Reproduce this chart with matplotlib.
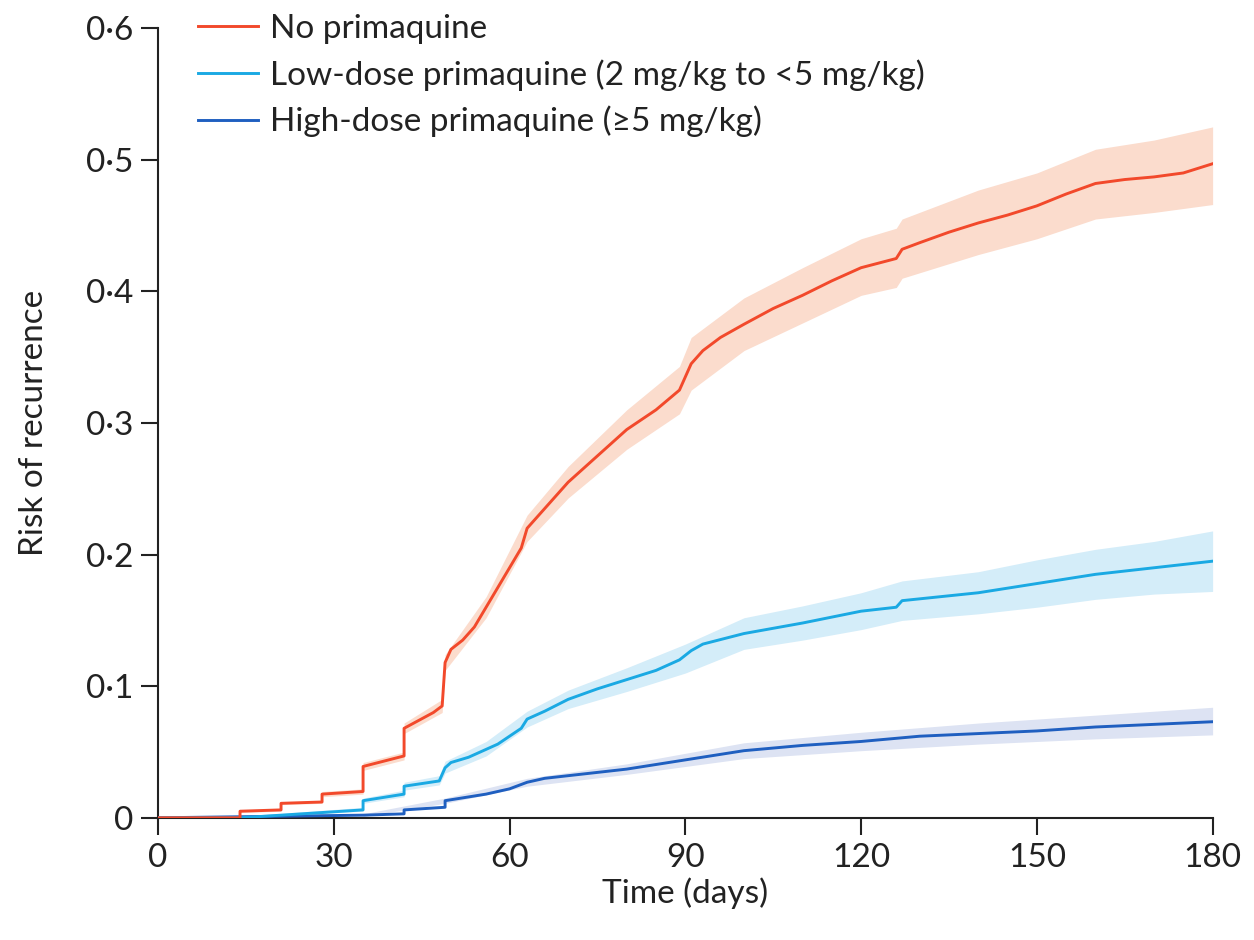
import matplotlib
matplotlib.use("Agg")
import matplotlib.pyplot as plt

# --- data ---
red_t = [0, 14, 14, 21, 21, 28, 28, 35, 35, 42, 42, 47, 48.5, 49, 50, 52, 54, 56, 58, 60,
         62, 63, 66, 70, 75, 80, 85, 89, 91, 93, 96, 100, 105, 110, 115, 120, 126, 127, 130, 135,
         140, 145, 150, 155, 160, 165, 170, 175, 180]
red_r = [0, 0, 0.005, 0.006, 0.011, 0.012, 0.018, 0.020, 0.039, 0.047, 0.068, 0.080, 0.085, 0.118, 0.128, 0.135, 0.145, 0.160, 0.175, 0.190,
         0.205, 0.220, 0.235, 0.255, 0.275, 0.295, 0.310, 0.325, 0.345, 0.355, 0.365, 0.375, 0.387, 0.397, 0.408, 0.418, 0.425, 0.432, 0.437, 0.445,
         0.452, 0.458, 0.465, 0.474, 0.482, 0.485, 0.487, 0.490, 0.497]
red_band_t = [14, 21, 21, 28, 28, 35, 35, 42, 42, 48.5, 49, 56, 63, 70, 80, 89, 91, 100, 110, 120, 126, 127, 140, 150, 160, 170, 180]
red_lo = [0.004, 0.005, 0.010, 0.011, 0.016, 0.018, 0.036, 0.044, 0.064, 0.080, 0.112, 0.152, 0.210, 0.243, 0.280, 0.307, 0.325, 0.355, 0.376, 0.397, 0.403, 0.410, 0.428, 0.440, 0.455, 0.460, 0.466]
red_hi = [0.006, 0.007, 0.012, 0.013, 0.020, 0.022, 0.042, 0.050, 0.072, 0.090, 0.124, 0.168, 0.230, 0.267, 0.310, 0.343, 0.365, 0.395, 0.418, 0.440, 0.448, 0.455, 0.477, 0.490, 0.508, 0.515, 0.525]

cyan_t = [0, 14, 21, 28, 35, 35, 42, 42, 48, 49, 50, 53, 56, 58, 60, 62, 63, 66, 70, 75,
          80, 85, 89, 91, 93, 100, 110, 120, 126, 127, 140, 150, 160, 170, 180]
cyan_r = [0, 0, 0.002, 0.004, 0.006, 0.013, 0.018, 0.024, 0.028, 0.038, 0.042, 0.046, 0.052, 0.056, 0.062, 0.068, 0.075, 0.081, 0.090, 0.098,
          0.105, 0.112, 0.120, 0.127, 0.132, 0.140, 0.148, 0.157, 0.160, 0.165, 0.171, 0.178, 0.185, 0.190, 0.195]
cyan_band_t = [14, 35, 35, 42, 42, 48, 49, 56, 63, 70, 80, 90, 100, 110, 120, 127, 140, 150, 160, 170, 180]
cyan_lo = [0, 0.005, 0.011, 0.016, 0.021, 0.025, 0.034, 0.047, 0.069, 0.083, 0.096, 0.110, 0.128, 0.135, 0.143, 0.150, 0.155, 0.160, 0.166, 0.170, 0.172]
cyan_hi = [0.001, 0.008, 0.015, 0.021, 0.027, 0.032, 0.043, 0.058, 0.081, 0.097, 0.114, 0.132, 0.152, 0.161, 0.171, 0.180, 0.187, 0.196, 0.204, 0.210, 0.218]

blue_t = [0, 35, 42, 42, 49, 49, 56, 60, 63, 66, 70, 80, 90, 100, 110, 120, 130, 140, 150, 160, 170, 180]
blue_r = [0, 0.002, 0.003, 0.006, 0.008, 0.013, 0.018, 0.022, 0.027, 0.030, 0.032, 0.037, 0.044, 0.051, 0.055, 0.058, 0.062, 0.064, 0.066, 0.069, 0.071, 0.073]
blue_band_t = [35, 49, 63, 80, 90, 100, 120, 140, 160, 180]
blue_lo = [0.001, 0.011, 0.024, 0.033, 0.039, 0.045, 0.051, 0.056, 0.060, 0.063]
blue_hi = [0.003, 0.015, 0.030, 0.041, 0.049, 0.057, 0.065, 0.072, 0.078, 0.084]

labels = ["No primaquine", "Low-dose primaquine (2 mg/kg to <5 mg/kg)", "High-dose primaquine (\u22655 mg/kg)"]
x_ticks = [0, 30, 60, 90, 120, 150, 180]
y_ticks = [0, 0.1, 0.2, 0.3, 0.4, 0.5, 0.6]
y_ticklabels = ["0", "0\u00b71", "0\u00b72", "0\u00b73", "0\u00b74", "0\u00b75", "0\u00b76"]

plt.rcParams['font.family'] = ['Lato', 'DejaVu Sans']

fig = plt.figure(figsize=(12.54, 9.4), dpi=100)
ax = fig.add_axes([0.126, 0.130, 0.841, 0.840])

ax.fill_between(red_band_t, red_lo, red_hi, color='#fbdccd', lw=0)
ax.fill_between(cyan_band_t, cyan_lo, cyan_hi, color='#d4edf9', lw=0)
ax.fill_between(blue_band_t, blue_lo, blue_hi, color='#dde3f3', lw=0)

ax.plot(blue_t, blue_r, color='#1f5fc0', lw=2.1, label=labels[2], zorder=3)
ax.plot(cyan_t, cyan_r, color='#1aa9e3', lw=2.1, label=labels[1], zorder=3)
ax.plot(red_t, red_r, color='#f2492b', lw=2.1, label=labels[0], zorder=4)

ax.set_xlim(0, 180)
ax.set_ylim(0, 0.6)
ax.set_xticks(x_ticks)
ax.set_yticks(y_ticks)
ax.set_yticklabels(y_ticklabels)
ax.spines['top'].set_visible(False)
ax.spines['right'].set_visible(False)
for s in ['left', 'bottom']:
    ax.spines[s].set_linewidth(1.5)
    ax.spines[s].set_color('#222222')
ax.tick_params(length=12, width=1.5, colors='#222222', labelsize=24, pad=6)

ax.set_xlabel('Time (days)', fontsize=24, color='#222222', labelpad=3)
ax.set_ylabel('Risk of recurrence', fontsize=24, color='#222222', labelpad=26)

h, l = ax.get_legend_handles_labels()
ax.legend(h[::-1], l[::-1], loc='upper left', bbox_to_anchor=(0.038, 1.018), frameon=False,
          borderpad=0, borderaxespad=0, fontsize=24, handlelength=1.8, handletextpad=0.35,
          labelspacing=0.45, labelcolor='#222222')

fig.savefig('out.png', dpi=100)
